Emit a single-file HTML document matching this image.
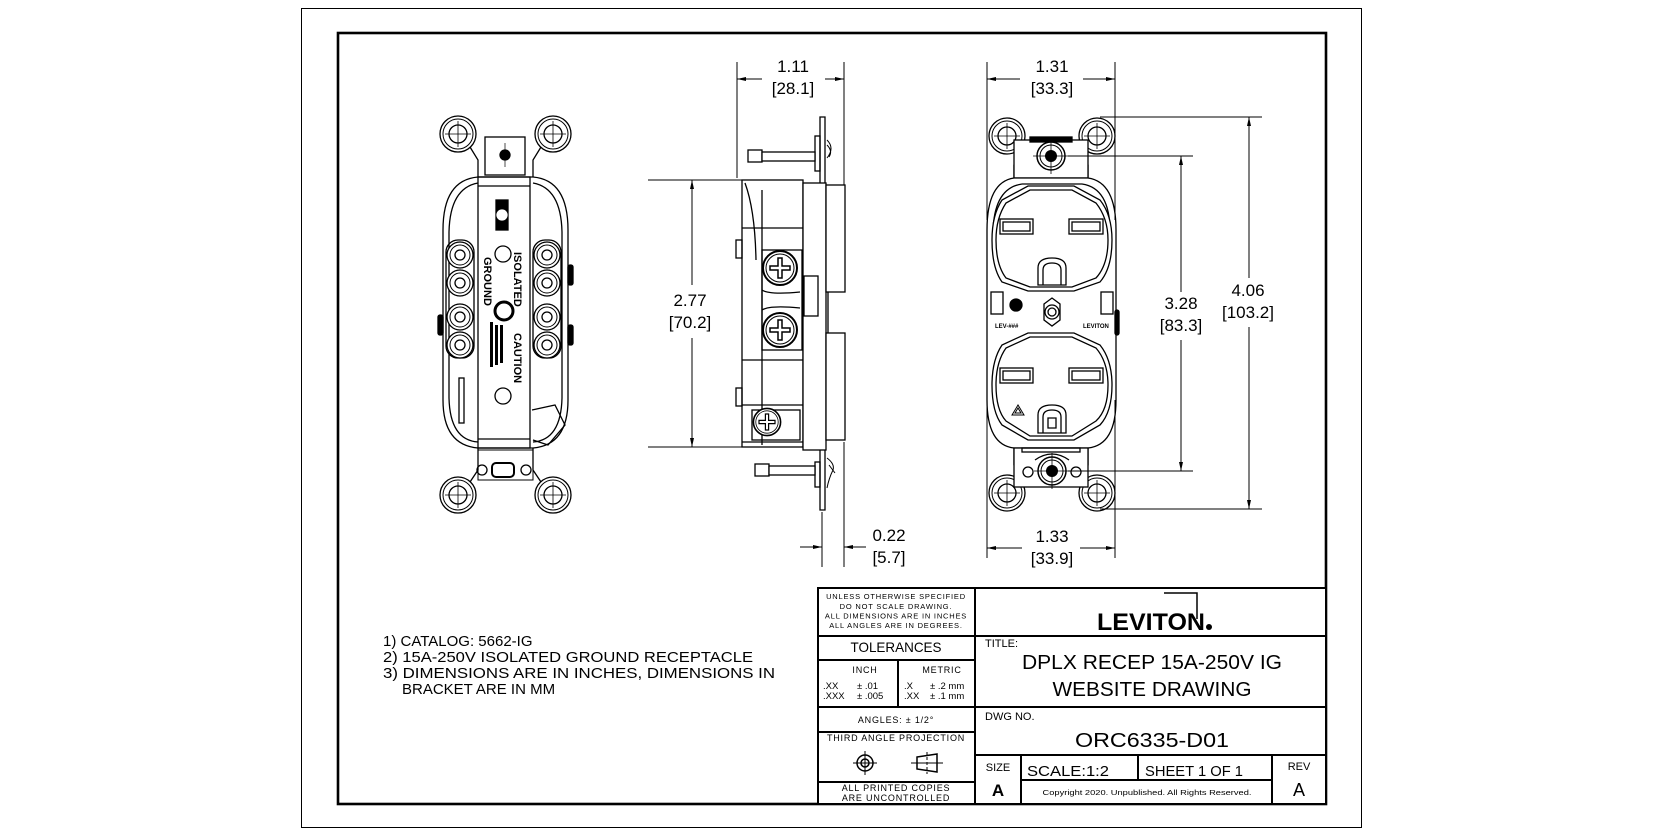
<!DOCTYPE html>
<html><head><meta charset="utf-8"><style>
html,body{margin:0;padding:0;background:#fff;}
svg{display:block;}
text{font-family:"Liberation Sans",Arial,sans-serif;fill:#000;}
</style></head><body>
<svg width="1664" height="837" viewBox="0 0 1664 837" xmlns="http://www.w3.org/2000/svg">
<defs>
<g id="ear">
<circle r="18" fill="#fff" stroke="#000" stroke-width="1.3"/>
<circle r="15" fill="none" stroke="#000" stroke-width="1"/>
<circle r="9" fill="none" stroke="#000" stroke-width="1.3"/>
<line x1="-13" y1="0" x2="13" y2="0" stroke="#000" stroke-width="0.8"/>
<line x1="0" y1="-13" x2="0" y2="13" stroke="#000" stroke-width="0.8"/>
</g>
<g id="term">
<circle r="13" fill="#fff" stroke="#000" stroke-width="1.3"/>
<circle r="10" fill="none" stroke="#000" stroke-width="1"/>
<circle r="5" fill="none" stroke="#000" stroke-width="1.3"/>
</g>
<g id="screw">
<circle r="14" fill="#fff" stroke="#000" stroke-width="1.5"/>
<circle r="11" fill="none" stroke="#000" stroke-width="1"/>
<circle r="6" fill="#000"/>
<line x1="-18" y1="0" x2="18" y2="0" stroke="#000" stroke-width="0.8"/>
<line x1="0" y1="-18" x2="0" y2="18" stroke="#000" stroke-width="0.8"/>
</g>
<g id="sscrew">
<circle r="17" fill="#fff" stroke="#000" stroke-width="2"/>
<circle r="14" fill="none" stroke="#000" stroke-width="1"/>
<path d="M-10 -2h8v-8h4v8h8v4h-8v8h-4v-8h-8z" fill="none" stroke="#000" stroke-width="1.5"/>
</g>
</defs>

<rect x="301.5" y="8.5" width="1060" height="819" fill="none" stroke="#000" stroke-width="1"/>
<rect x="338" y="33" width="988" height="771" fill="none" stroke="#000" stroke-width="2.6"/>

<g stroke="#000" fill="none" stroke-width="1.3">
<use href="#ear" x="458" y="134"/>
<use href="#ear" x="553" y="134"/>
<use href="#ear" x="458" y="495"/>
<use href="#ear" x="553" y="495"/>
<path d="M470 147 L478 160 L478 177 M541 147 L533 160 L533 177"/>
<path d="M470 482 L478 470 L478 448 M541 482 L533 470 L533 448"/>
<rect x="485" y="137" width="40" height="38" fill="#fff"/>
<circle cx="505" cy="155" r="5" fill="#000"/>
<line x1="505" y1="143" x2="505" y2="167" stroke-width="0.7"/>
<path d="M478 177 L533 177 Q568 180 568 230 L568 400 Q568 445 533 448 L478 448 Q443 445 443 400 L443 230 Q443 180 478 177 Z" fill="#fff"/>
<path d="M478 183 Q450 188 449 232 L449 398 Q450 440 478 442 M533 183 Q561 188 562 232 L562 398 Q561 440 533 442"/>
<rect x="478" y="177" width="52" height="271"/>
<line x1="478" y1="186" x2="530" y2="186"/>
<line x1="478" y1="439" x2="530" y2="439"/>
<rect x="446" y="240" width="28" height="118" rx="12"/>
<rect x="533" y="240" width="28" height="118" rx="12"/>
<use href="#term" x="460" y="255"/><use href="#term" x="460" y="283"/><use href="#term" x="460" y="317"/><use href="#term" x="460" y="345"/>
<use href="#term" x="547" y="255"/><use href="#term" x="547" y="283"/><use href="#term" x="547" y="317"/><use href="#term" x="547" y="345"/>
<rect x="496" y="200" width="12" height="30" fill="#000"/>
<circle cx="502" cy="215" r="5" fill="#fff" stroke="#fff"/>
<circle cx="503" cy="254" r="8"/>
<circle cx="504" cy="311" r="9" stroke-width="3"/>
<circle cx="503" cy="396" r="8"/>
<rect x="459" y="378" width="5" height="45"/>
<path d="M532 410 L555 405 L565 425 L548 445 L533 440"/>
<rect x="492" y="463" width="22" height="14" rx="4" stroke-width="2"/>
<circle cx="482" cy="470" r="5"/><circle cx="526" cy="470" r="5"/>
<rect x="478" y="450" width="55" height="30" stroke-width="1"/>
<rect x="438" y="315" width="5" height="20" rx="2" fill="#000"/>
<rect x="568" y="265" width="5" height="20" rx="2" fill="#000"/>
<rect x="568" y="325" width="5" height="20" rx="2" fill="#000"/>
</g>
<text transform="translate(514 252) rotate(90)" font-size="11" font-weight="bold">ISOLATED</text>
<text transform="translate(484 257) rotate(90)" font-size="11" font-weight="bold">GROUND</text>
<text transform="translate(514 333) rotate(90)" font-size="11" font-weight="bold">CAUTION</text>
<g fill="#000"><rect x="500" y="325" width="3" height="38"/><rect x="495" y="325" width="3" height="40"/><rect x="490" y="322" width="3" height="45"/></g>

<g stroke="#000" fill="none" stroke-width="1.3">
<path d="M820 117 h5 v90 l3 8 v200 l-3 8 v87 h-5 v-87 l-3-8 v-200 l3-8 z" fill="#fff"/>
<rect x="815" y="136" width="5" height="35"/>
<rect x="815" y="462" width="5" height="25"/>
<path d="M827 140 q8 8 0 18 M827 145 q6 6 2 12" stroke-width="1"/>
<path d="M827 458 q8 6 6 12 q-4 8 -6 18 M829 465 l6 8" stroke-width="1"/>
<rect x="748" y="150" width="14" height="12" fill="#fff"/>
<rect x="762" y="152" width="53" height="9" fill="#fff"/>
<rect x="755" y="464" width="14" height="12" fill="#fff"/>
<rect x="769" y="466" width="46" height="9" fill="#fff"/>
<rect x="742" y="180" width="61" height="267" fill="#fff"/>
<rect x="803" y="183" width="23" height="267" fill="#fff"/>
<rect x="826" y="185" width="19" height="107" fill="#fff"/>
<rect x="826" y="333" width="19" height="107" fill="#fff"/>
<rect x="804" y="276" width="14" height="40" fill="#fff"/>
<line x1="762" y1="190" x2="762" y2="445"/>
<path d="M745 183 Q755 210 756 260" />
<line x1="742" y1="228" x2="803" y2="228"/>
<line x1="742" y1="360" x2="803" y2="360"/>
<line x1="742" y1="405" x2="803" y2="405"/>
<line x1="742" y1="442" x2="803" y2="442"/>
<rect x="736" y="240" width="6" height="18"/>
<rect x="736" y="388" width="6" height="18"/>
<rect x="762" y="250" width="40" height="100"/>
<path d="M762 290 Q770 295 800 292 M762 310 Q770 305 800 308"/>
<rect x="752" y="410" width="48" height="30"/>
</g>
<use href="#sscrew" x="780" y="268"/>
<use href="#sscrew" x="780" y="330"/>
<g transform="translate(767 422) scale(0.8)"><use href="#sscrew"/></g>

<g stroke="#000" fill="none" stroke-width="1.3">
<use href="#ear" x="1007" y="136"/>
<use href="#ear" x="1097" y="136"/>
<use href="#ear" x="1007" y="493"/>
<use href="#ear" x="1097" y="493"/>
<path d="M1020 150 L1014 165 L1014 178 M1084 150 L1088 165 L1088 178"/>
<path d="M1020 480 L1014 465 L1014 448 M1084 480 L1088 465 L1088 448"/>
<rect x="1014" y="140" width="74" height="38" fill="#fff"/>
<rect x="1030" y="137" width="42" height="5" fill="#000"/>
<path d="M1014 178 L1088 178 Q1116 182 1116 230 L1116 400 Q1116 445 1088 448 L1014 448 Q987 445 987 400 L987 230 Q987 182 1014 178 Z" fill="#fff"/>
<path d="M1022 184 L1082 184 Q1110 188 1110 232 M1022 184 Q994 188 993 232"/>
<path d="M1028 186 L1074 186 L1100 200 Q1112 215 1112 240 Q1112 268 1100 282 L1074 291 L1028 291 L1002 282 Q992 268 992 240 Q992 215 1002 200 Z" fill="#fff"/>
<path d="M1030 190 L1072 190 L1096 203 Q1108 218 1108 240 Q1108 265 1096 278 L1072 287 L1030 287 L1006 278 Q996 265 996 240 Q996 218 1006 203 Z"/>
<path d="M1028 333 L1074 333 L1100 345 Q1112 360 1112 385 Q1112 412 1100 425 L1074 440 L1028 440 L1002 425 Q992 412 992 385 Q992 360 1002 345 Z" fill="#fff"/>
<path d="M1030 337 L1072 337 L1096 348 Q1108 362 1108 385 Q1108 410 1096 421 L1072 436 L1030 436 L1006 421 Q996 410 996 385 Q996 362 1006 348 Z"/>
<rect x="1000" y="219" width="33" height="15"/><rect x="1003" y="222" width="27" height="9"/>
<rect x="1069" y="219" width="34" height="15"/><rect x="1072" y="222" width="28" height="9"/>
<rect x="1000" y="368" width="33" height="15"/><rect x="1003" y="371" width="27" height="9"/>
<rect x="1069" y="368" width="34" height="15"/><rect x="1072" y="371" width="28" height="9"/>
<path d="M1038 285 L1038 268 Q1038 258 1052 258 Q1066 258 1066 268 L1066 285 Z"/>
<path d="M1043 285 L1043 270 Q1043 263 1052 263 Q1061 263 1061 270 L1061 285"/>
<path d="M1038 433 L1038 415 Q1038 405 1052 405 Q1066 405 1066 415 L1066 433 Z"/>
<path d="M1043 433 L1043 417 Q1043 410 1052 410 Q1061 410 1061 417 L1061 433 M1048 418 h8 v10 h-8z"/>
<path d="M1012 415 L1018 405 L1024 415 Z M1015 413 L1018 408 L1021 413Z" stroke-width="1"/>
<path d="M1044 304 L1052 298 L1060 304 L1060 320 L1052 326 L1044 320 Z"/>
<circle cx="1052" cy="312" r="7"/><circle cx="1052" cy="312" r="4"/>
<rect x="991" y="292" width="12" height="22"/>
<rect x="1101" y="292" width="12" height="22"/>
<circle cx="1016" cy="305" r="6" fill="#000"/>
<rect x="1014" y="448" width="74" height="39" fill="#fff"/>
<rect x="1022" y="448" width="58" height="4"/>
<circle cx="1028" cy="472" r="5"/><circle cx="1076" cy="472" r="5"/>
<path d="M1035 460 Q1052 448 1069 460"/>
<rect x="1115" y="310" width="4" height="25" rx="2" fill="#000"/>
</g>
<use href="#screw" x="1051" y="156"/>
<use href="#screw" x="1052" y="471"/>
<text x="995" y="328" font-size="6" font-weight="bold">LEV-###</text>
<text x="1083" y="328" font-size="6" font-weight="bold">LEVITON</text>

<g stroke="#000" stroke-width="1" fill="none">
<line x1="737" y1="62" x2="737" y2="178"/>
<line x1="844" y1="62" x2="844" y2="185"/>
<line x1="737" y1="79" x2="762" y2="79"/><line x1="825" y1="79" x2="844" y2="79"/>
<line x1="648" y1="180" x2="742" y2="180"/>
<line x1="648" y1="447" x2="742" y2="447"/>
<line x1="692" y1="180" x2="692" y2="285"/><line x1="692" y1="338" x2="692" y2="447"/>
<line x1="822" y1="512" x2="822" y2="567"/>
<line x1="844" y1="442" x2="844" y2="567"/>
<line x1="800" y1="547" x2="822" y2="547"/><line x1="844" y1="547" x2="866" y2="547"/>
<line x1="987" y1="62" x2="987" y2="220"/>
<line x1="1115" y1="62" x2="1115" y2="220"/>
<line x1="987" y1="79" x2="1020" y2="79"/><line x1="1083" y1="79" x2="1115" y2="79"/>
<line x1="987" y1="400" x2="987" y2="558"/>
<line x1="1115" y1="400" x2="1115" y2="558"/>
<line x1="987" y1="548" x2="1022" y2="548"/><line x1="1080" y1="548" x2="1115" y2="548"/>
<line x1="1100" y1="117" x2="1262" y2="117"/>
<line x1="1100" y1="509" x2="1262" y2="509"/>
<line x1="1249" y1="117" x2="1249" y2="278"/><line x1="1249" y1="327" x2="1249" y2="509"/>
<line x1="1068" y1="156" x2="1193" y2="156"/>
<line x1="1068" y1="471" x2="1193" y2="471"/>
<line x1="1181" y1="156" x2="1181" y2="292"/><line x1="1181" y1="340" x2="1181" y2="471"/>
</g>
<g fill="#000">
<path d="M737 79 l9 -2 v4 z"/><path d="M844 79 l-9 -2 v4 z"/>
<path d="M692 180 l-2 9 h4 z"/><path d="M692 447 l-2 -9 h4 z"/>
<path d="M822 547 l-9 -2 v4 z"/><path d="M844 547 l9 -2 v4 z"/>
<path d="M987 79 l9 -2 v4 z"/><path d="M1115 79 l-9 -2 v4 z"/>
<path d="M987 548 l9 -2 v4 z"/><path d="M1115 548 l-9 -2 v4 z"/>
<path d="M1249 117 l-2 9 h4 z"/><path d="M1249 509 l-2 -9 h4 z"/>
<path d="M1181 156 l-2 9 h4 z"/><path d="M1181 471 l-2 -9 h4 z"/>
</g>
<g font-size="17" text-anchor="middle">
<text x="793" y="72">1.11</text><text x="793" y="94">[28.1]</text>
<text x="690" y="306">2.77</text><text x="690" y="328">[70.2]</text>
<text x="889" y="541">0.22</text><text x="889" y="563">[5.7]</text>
<text x="1052" y="72">1.31</text><text x="1052" y="94">[33.3]</text>
<text x="1052" y="542">1.33</text><text x="1052" y="564">[33.9]</text>
<text x="1248" y="296">4.06</text><text x="1248" y="318">[103.2]</text>
<text x="1181" y="309">3.28</text><text x="1181" y="331">[83.3]</text>
</g>

<g font-size="15">
<text x="383" y="646">1) CATALOG: 5662-IG</text>
<text x="383" y="662" textLength="370" lengthAdjust="spacingAndGlyphs">2) 15A-250V ISOLATED GROUND RECEPTACLE</text>
<text x="383" y="678" textLength="392" lengthAdjust="spacingAndGlyphs">3) DIMENSIONS ARE IN INCHES, DIMENSIONS IN</text>
<text x="402" y="694">BRACKET ARE IN MM</text>
</g>

<g stroke="#000" stroke-width="2" fill="none">
<rect x="818" y="588" width="508" height="216" fill="#fff"/>
<line x1="975" y1="588" x2="975" y2="804"/>
<line x1="818" y1="636" x2="1326" y2="636"/>
<line x1="818" y1="660" x2="975" y2="660"/>
<line x1="898" y1="660" x2="898" y2="707"/>
<line x1="818" y1="707" x2="1326" y2="707"/>
<line x1="818" y1="732" x2="975" y2="732"/>
<line x1="818" y1="782" x2="975" y2="782"/>
<line x1="975" y1="755" x2="1326" y2="755"/>
<line x1="1021" y1="755" x2="1021" y2="804"/>
<line x1="1138" y1="755" x2="1138" y2="780"/>
<line x1="1272" y1="755" x2="1272" y2="804"/>
<line x1="1021" y1="780" x2="1272" y2="780"/>
<path d="M1164 593 H1197 V619" stroke-width="1.5"/>
</g>
<g font-size="7.5" text-anchor="middle" letter-spacing="0.8">
<text x="896" y="599">UNLESS OTHERWISE SPECIFIED</text>
<text x="896" y="609">DO NOT SCALE DRAWING.</text>
<text x="896" y="618.5">ALL DIMENSIONS ARE IN INCHES</text>
<text x="896" y="628">ALL ANGLES ARE IN DEGREES.</text>
</g>
<text x="896" y="652" font-size="14" text-anchor="middle" textLength="91" lengthAdjust="spacingAndGlyphs">TOLERANCES</text>
<g font-size="9" letter-spacing="0.8" text-anchor="middle"><text x="865" y="673">INCH</text><text x="942" y="673">METRIC</text></g>
<g font-size="9.5">
<text x="823" y="689">.XX</text><text x="857" y="689">± .01</text>
<text x="823" y="699">.XXX</text><text x="857" y="699">± .005</text>
<text x="904" y="689">.X</text><text x="930" y="689">± .2 mm</text>
<text x="904" y="699">.XX</text><text x="930" y="699">± .1 mm</text>
</g>
<text x="896" y="723" font-size="9" text-anchor="middle" letter-spacing="0.8">ANGLES: ± 1/2°</text>
<text x="896" y="741" font-size="9" text-anchor="middle" letter-spacing="0.8">THIRD ANGLE PROJECTION</text>
<g stroke="#000" fill="none" stroke-width="1.5">
<circle cx="865" cy="763" r="8"/><circle cx="865" cy="763" r="4"/>
<line x1="853" y1="763" x2="877" y2="763" stroke-width="1"/><line x1="865" y1="751" x2="865" y2="775" stroke-width="1"/>
<path d="M917 757 L937 754 L937 772 L917 769 Z"/>
<line x1="911" y1="763" x2="943" y2="763" stroke-width="1"/><line x1="927" y1="752" x2="927" y2="774" stroke-width="1" stroke-dasharray="3 2"/>
</g>
<g font-size="9" text-anchor="middle" letter-spacing="0.8"><text x="896" y="791">ALL PRINTED COPIES</text><text x="896" y="801">ARE UNCONTROLLED</text></g>
<text x="1097" y="630" font-size="24" font-weight="bold" textLength="108" lengthAdjust="spacingAndGlyphs">LEVITON</text>
<circle cx="1209" cy="627" r="3" fill="#000"/>
<text x="985" y="647" font-size="11">TITLE:</text>
<text x="1152" y="669" font-size="20" text-anchor="middle" textLength="260" lengthAdjust="spacingAndGlyphs">DPLX RECEP 15A-250V IG</text>
<text x="1152" y="696" font-size="20" text-anchor="middle" textLength="199" lengthAdjust="spacingAndGlyphs">WEBSITE DRAWING</text>
<text x="985" y="720" font-size="11">DWG NO.</text>
<text x="1152" y="747" font-size="20" text-anchor="middle" textLength="154" lengthAdjust="spacingAndGlyphs">ORC6335-D01</text>
<text x="998" y="771" font-size="11" text-anchor="middle">SIZE</text>
<text x="998" y="796" font-size="17" font-weight="bold" text-anchor="middle">A</text>
<text x="1027" y="776" font-size="15" textLength="82" lengthAdjust="spacingAndGlyphs">SCALE:1:2</text>
<text x="1145" y="776" font-size="15" textLength="98" lengthAdjust="spacingAndGlyphs">SHEET 1 OF 1</text>
<text x="1147" y="795" font-size="7.5" text-anchor="middle" textLength="209" lengthAdjust="spacingAndGlyphs">Copyright 2020. Unpublished. All Rights Reserved.</text>
<text x="1299" y="770" font-size="11" text-anchor="middle">REV</text>
<text x="1299" y="796" font-size="18" text-anchor="middle">A</text>
</svg>
</body></html>
